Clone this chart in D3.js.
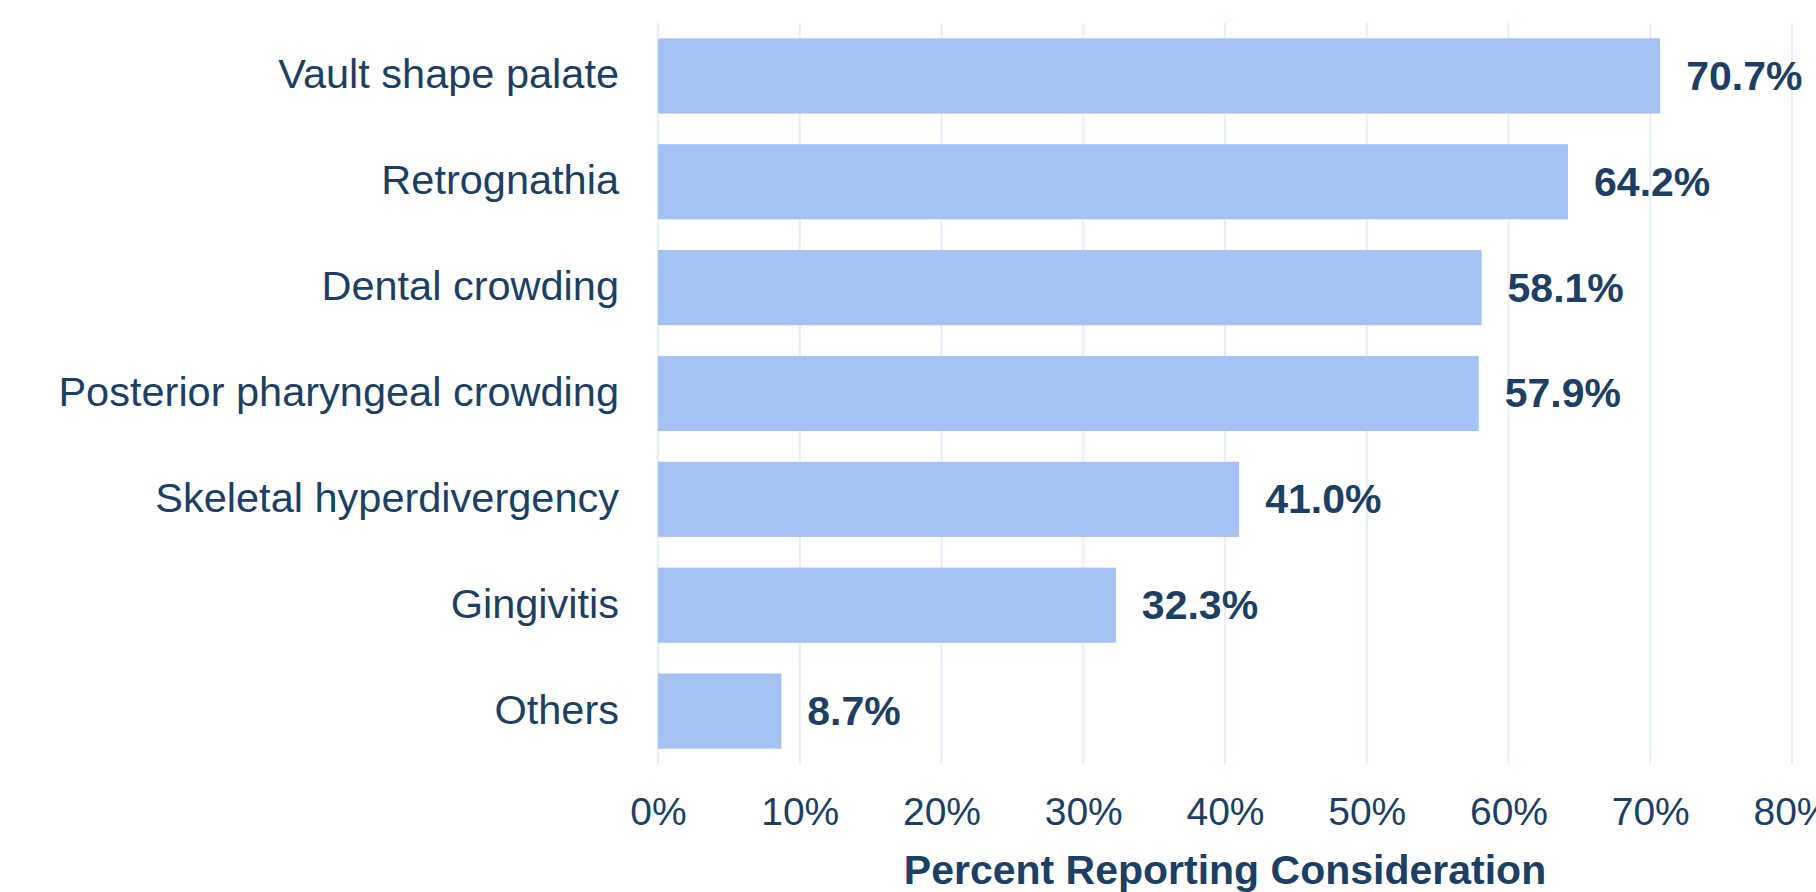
<!DOCTYPE html>
<html>
<head>
<script src="https://d3js.org/d3.v7.min.js"></script>
<style>
  body { margin: 0; background: #fff; overflow: hidden; }
  text { font-family: "Liberation Sans", Arial, Helvetica, sans-serif; fill: #1d3f63; }
</style>
</head>
<body>
<div id="chart"></div>
<script>
// data
var categories = ["Vault shape palate", "Retrognathia", "Dental crowding",
                  "Posterior pharyngeal crowding", "Skeletal hyperdivergency",
                  "Gingivitis", "Others"];
var percents = [70.7, 64.2, 58.1, 57.9, 41.0, 32.3, 8.7];
var tickValues = [0, 10, 20, 30, 40, 50, 60, 70, 80];
var xTitle = "Percent Reporting Consideration";

var w = 1816, h = 892;
var svg = d3.select("#chart").append("svg").attr("width", w).attr("height", h);

var x = d3.scaleLinear().domain([0, 80]).range([658, 1792]);
var y = d3.scaleBand().domain(categories).range([23, 764])
    .paddingInner(0.29).paddingOuter(0.145);

// vertical grid lines
svg.append("g").selectAll("line")
    .data(tickValues).enter().append("line")
    .attr("x1", function(d) { return x(d); })
    .attr("x2", function(d) { return x(d); })
    .attr("y1", 23).attr("y2", 764)
    .attr("stroke", "#e6eefa").attr("stroke-width", 2);

// bars
svg.append("g").selectAll("rect")
    .data(categories).enter().append("rect")
    .attr("x", x(0))
    .attr("y", function(d) { return y(d); })
    .attr("width", function(d, i) { return x(percents[i]) - x(0); })
    .attr("height", y.bandwidth())
    .attr("fill", "#a4c2f4");

// value labels
svg.append("g").selectAll("text")
    .data(categories).enter().append("text")
    .attr("x", function(d, i) { return x(percents[i]) + 26; })
    .attr("y", function(d) { return y(d) + y.bandwidth() / 2; })
    .attr("dy", "0.34em")
    .style("font-size", "41px").style("font-weight", "bold")
    .text(function(d, i) { return percents[i].toFixed(1) + "%"; });

// category labels
svg.append("g").selectAll("text")
    .data(categories).enter().append("text")
    .attr("x", 619)
    .attr("y", function(d) { return y(d) + y.bandwidth() / 2; })
    .attr("dy", "0.3em")
    .attr("text-anchor", "end")
    .style("font-size", "41.5px")
    .text(function(d) { return d; });

// x axis ticks (no domain line)
var xAxis = svg.append("g").attr("transform", "translate(0,764)")
    .call(d3.axisBottom(x).tickValues(tickValues).tickSize(0).tickPadding(0)
        .tickFormat(function(d) { return d + "%"; }));
xAxis.select(".domain").remove();
xAxis.selectAll("text")
    .attr("y", 61).attr("dy", 0)
    .style("font-size", "39px")
    .style("font-family", "'Liberation Sans', Arial, sans-serif")
    .attr("fill", "#1d3f63");

// axis title
svg.append("text")
    .attr("x", (x(0) + x(80)) / 2)
    .attr("y", 884)
    .attr("text-anchor", "middle")
    .style("font-size", "41px").style("font-weight", "bold")
    .text(xTitle);
</script>
</body>
</html>
